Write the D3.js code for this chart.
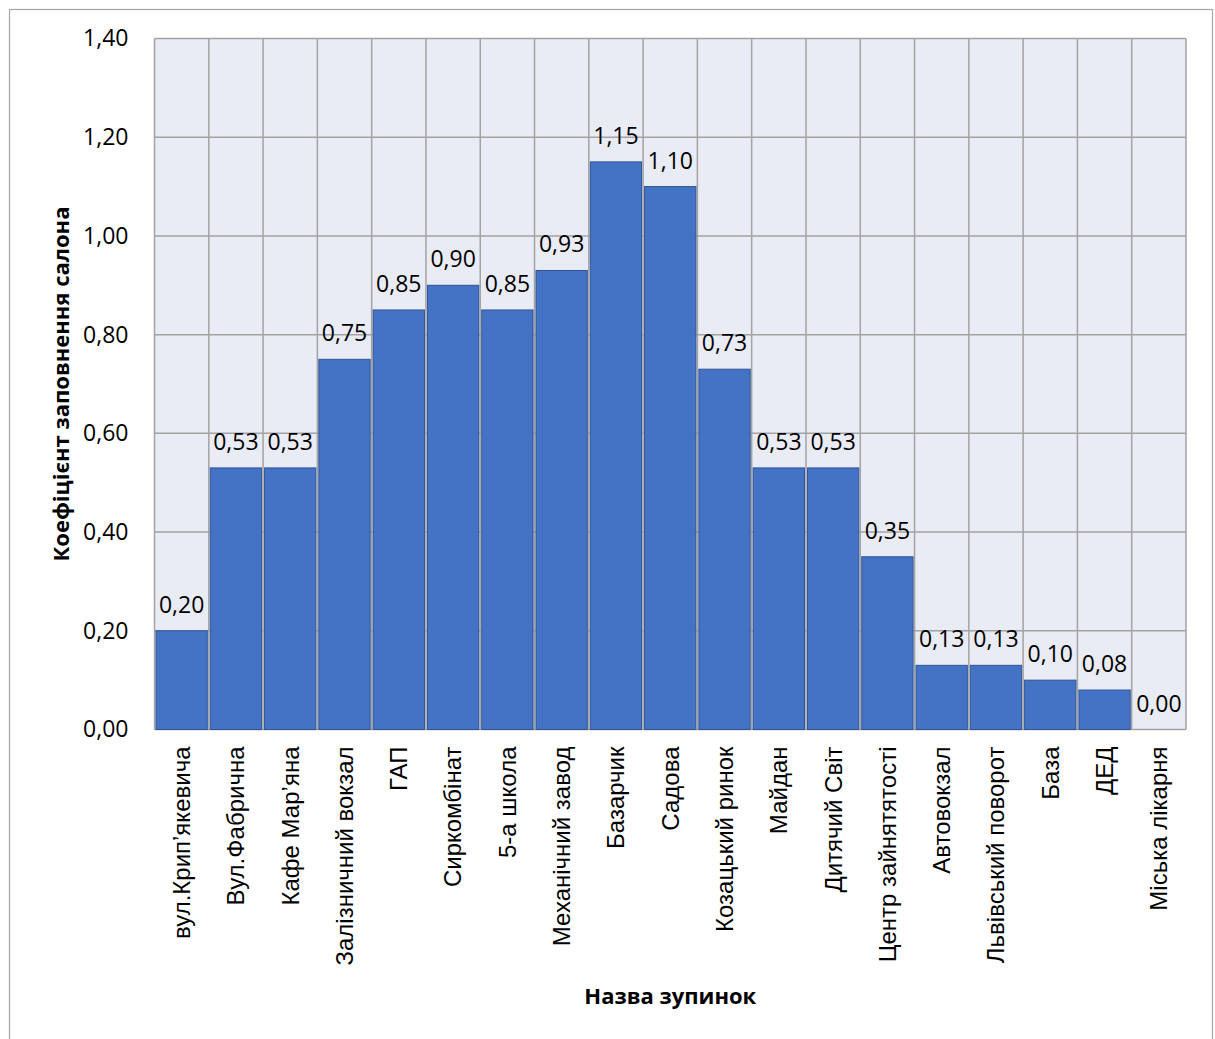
<!DOCTYPE html>
<html>
<head>
<meta charset="utf-8">
<script src="https://cdn.jsdelivr.net/npm/d3@7"></script>
<style>
  html, body { margin: 0; padding: 0; background: #ffffff; }
  svg { display: block; }
</style>
</head>
<body>
<svg id="chart" width="1215" height="1039"></svg>
<script>
// Stops along the route and the passenger-load coefficient at each one
const stops = [
  "вул.Крип’якевича", "Вул.Фабрична", "Кафе Мар’яна", "Залізничний вокзал",
  "ГАП", "Сиркомбінат", "5-а школа", "Механічний завод", "Базарчик", "Садова",
  "Козацький ринок", "Майдан", "Дитячий Світ", "Центр зайнятятості",
  "Автовокзал", "Львівський поворот", "База", "ДЕД", "Міська лікарня"
];
const loadFactor = [
  0.20, 0.53, 0.53, 0.75, 0.85, 0.90, 0.85, 0.93, 1.15, 1.10,
  0.73, 0.53, 0.53, 0.35, 0.13, 0.13, 0.10, 0.08, 0.00
];
const yTicks = [0, 0.2, 0.4, 0.6, 0.8, 1.0, 1.2, 1.4];

const xTitle = "Назва зупинок";
const yTitle = "Коефіцієнт заповнення салона";

const svg = d3.select("#chart");
const W = 1215, H = 1039;
const plot = { left: 154.5, top: 38.5, right: 1186, bottom: 729.5 };

const fmt = v => d3.format(".2f")(v).replace(".", ",");
const numFont = "'Open Sans', sans-serif";
const catFont = "'Liberation Sans', Arial, sans-serif";

// Outer chart frame
svg.append("rect")
  .attr("x", 9.5).attr("y", 9.5)
  .attr("width", W - 12).attr("height", H + 20)
  .attr("fill", "#ffffff").attr("stroke", "#a6a6a6").attr("stroke-width", 1.2);

const x = d3.scaleBand()
  .domain(stops)
  .range([plot.left, plot.right])
  .paddingInner(0.055)
  .paddingOuter(0.0275);

const xCell = d3.scaleBand().domain(stops).range([plot.left, plot.right]);

const y = d3.scaleLinear().domain([0, 1.4]).range([plot.bottom, plot.top]);

// Plot background
svg.append("rect")
  .attr("x", plot.left).attr("y", plot.top)
  .attr("width", plot.right - plot.left).attr("height", plot.bottom - plot.top)
  .attr("fill", "#e9ebf5");

// Horizontal gridlines
svg.append("g")
  .selectAll("line")
  .data(yTicks)
  .join("line")
  .attr("x1", plot.left).attr("x2", plot.right)
  .attr("y1", d => y(d)).attr("y2", d => y(d))
  .attr("stroke", "#a3a3a3").attr("stroke-width", 1.5);

// Vertical gridlines at category boundaries
svg.append("g")
  .selectAll("line")
  .data(stops.concat(["__end"]))
  .join("line")
  .attr("x1", (d, i) => i < stops.length ? xCell(d) : plot.right)
  .attr("x2", (d, i) => i < stops.length ? xCell(d) : plot.right)
  .attr("y1", plot.top).attr("y2", plot.bottom)
  .attr("stroke", "#a3a3a3").attr("stroke-width", 1.5);

// Bars
svg.append("g")
  .selectAll("rect")
  .data(loadFactor)
  .join("rect")
  .attr("x", (d, i) => x(stops[i]))
  .attr("width", x.bandwidth())
  .attr("y", d => y(d))
  .attr("height", d => y(0) - y(d))
  .attr("fill", "#4472c4")
  .attr("stroke", "#2f5597")
  .attr("stroke-width", d => d > 0 ? 1 : 0);

// Value labels
svg.append("g")
  .selectAll("text")
  .data(loadFactor)
  .join("text")
  .attr("x", (d, i) => xCell(stops[i]) + xCell.bandwidth() / 2)
  .attr("y", d => y(d) - 18)
  .attr("text-anchor", "middle")
  .attr("font-family", numFont)
  .attr("font-size", 23)
  .attr("fill", "#000")
  .text(d => fmt(d));

// Y axis tick labels
const yAxis = d3.axisLeft(y).tickValues(yTicks).tickSize(0).tickPadding(26).tickFormat(fmt);
const yg = svg.append("g").attr("transform", `translate(${plot.left},0)`).call(yAxis);
yg.select(".domain").remove();
yg.selectAll("text")
  .attr("font-family", numFont)
  .attr("font-size", 23)
  .attr("fill", "#000");

// X axis category labels (rotated)
const xAxis = d3.axisBottom(xCell).tickSize(0).tickPadding(0);
const xg = svg.append("g").attr("transform", `translate(0,${plot.bottom})`).call(xAxis);
xg.select(".domain").remove();
xg.selectAll("text")
  .attr("font-family", catFont)
  .attr("font-size", 24)
  .attr("fill", "#000")
  .attr("text-anchor", "end")
  .attr("transform", "rotate(-90)")
  .attr("x", -17)
  .attr("y", 0)
  .attr("dy", "0.35em");

// Axis titles
svg.append("text")
  .attr("x", (plot.left + plot.right) / 2)
  .attr("y", 1004)
  .attr("text-anchor", "middle")
  .attr("font-family", numFont)
  .attr("font-weight", "bold")
  .attr("font-size", 22)
  .attr("fill", "#000")
  .text(xTitle);

svg.append("text")
  .attr("transform", `translate(69,${(plot.top + plot.bottom) / 2}) rotate(-90)`)
  .attr("text-anchor", "middle")
  .attr("font-family", numFont)
  .attr("font-weight", "bold")
  .attr("font-size", 22)
  .attr("fill", "#000")
  .text(yTitle);
</script>
</body>
</html>
